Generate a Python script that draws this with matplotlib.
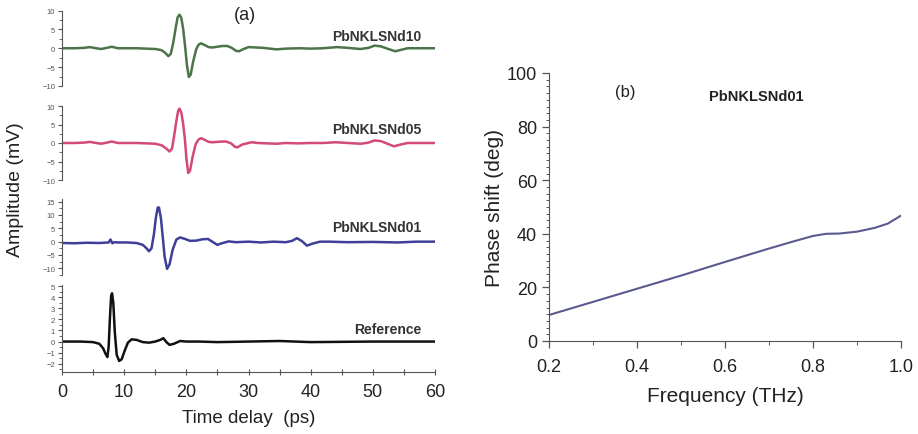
import matplotlib
matplotlib.use("Agg")
import matplotlib.pyplot as plt
from matplotlib.ticker import MultipleLocator

plt.rcParams['font.family'] = ['Liberation Sans', 'DejaVu Sans']

# THz time-domain traces (time in ps, amplitude in mV)
t_d10 = [0, 2, 3.5, 4.5, 5.5, 6.3, 7.2, 8.0, 9.0, 10.5, 12, 13.5, 15.0, 16.0, 16.6, 17.1, 17.5,
         17.9, 18.3, 18.6, 18.9, 19.2, 19.5, 19.8, 20.1, 20.4, 20.7, 21.1, 21.6, 22.0, 22.4,
         23.0, 23.6, 24.2, 25.0, 25.8, 26.6, 27.3, 28.0, 28.5, 29.2, 30.0, 31.3, 32.4, 34.5,
         36.0, 38.2, 40.0, 42.0, 44.2, 46.0, 48.0, 49.3, 50.3, 51.3, 52.5, 53.6, 54.6, 55.6, 57.0, 60]
a_d10 = [0, 0, 0.1, 0.3, 0.0, -0.2, 0.1, 0.4, 0.0, 0.0, 0.0, -0.1, -0.2, -0.5, -1.2, -2.1, -1.5,
         1.5, 5.5, 8.2, 8.9, 8.0, 5.0, 0.5, -4.5, -7.6, -7.0, -3.5, -0.2, 1.0, 1.3,
         0.8, 0.3, 0.2, 0.4, 0.6, 0.6, 0.1, -0.7, -0.8, -0.2, 0.3, 0.2, 0.1, -0.3,
         -0.1, 0.0, -0.1, 0.0, 0.3, 0.1, -0.2, 0.1, 0.7, 0.5, -0.2, -0.8, -0.4, 0.0, 0.0, 0.0]

t_d05 = [0, 2, 3.5, 4.5, 5.5, 6.3, 7.2, 8.0, 9.0, 10.5, 12, 13.5, 15.0, 16.0, 16.7, 17.3, 17.7,
         18.0, 18.4, 18.7, 18.9, 19.2, 19.5, 19.8, 20.0, 20.3, 20.6, 21.0, 21.5, 22.0, 22.4,
         23.0, 23.6, 24.2, 25.0, 25.8, 26.4, 27.2, 27.8, 28.2, 29.0, 30.5, 31.5, 33.0, 34.5,
         36.0, 38.0, 40.0, 42.0, 44.0, 46.0, 48.0, 49.3, 50.3, 51.3, 52.5, 53.4, 54.5, 55.6, 57.0, 60]
a_d05 = [0, 0, 0.1, 0.3, 0.0, -0.2, 0.1, 0.4, 0.0, 0.0, 0.0, -0.1, -0.2, -0.6, -1.4, -2.3, -1.5,
         1.5, 6.0, 8.8, 9.3, 8.2, 5.0, 0.5, -4.0, -8.1, -7.5, -3.8, -0.3, 1.0, 1.3,
         0.8, 0.3, 0.2, 0.3, 0.4, 0.4, -0.1, -1.0, -1.2, -0.4, 0.2, 0.0, -0.1, -0.2,
         0.0, -0.1, 0.0, 0.0, 0.2, 0.0, -0.2, 0.1, 0.7, 0.5, -0.3, -0.9, -0.4, 0.0, 0.0, 0.0]

t_d01 = [0, 2, 4, 6, 7.5, 7.8, 8.1, 8.4, 9.0, 10.5, 12.0, 13.0, 13.6, 14.0, 14.4, 14.8, 15.1,
         15.4, 15.6, 15.9, 16.2, 16.5, 16.9, 17.3, 17.8, 18.4, 19.0, 19.8, 20.6, 21.6, 22.6,
         23.5, 24.3, 25.0, 25.7, 26.8, 28.0, 30.0, 32.0, 34.0, 36.0, 37.0, 37.8, 38.6, 39.4,
         40.2, 41.5, 43.0, 46.0, 50.0, 54.0, 57.0, 60]
a_d01 = [-0.5, -0.6, -0.4, -0.5, -0.3, 0.8, -0.6, -0.2, -0.3, -0.3, -0.5, -1.2, -2.5, -3.6, -2.5, 3.0, 9.0,
         12.8, 12.8, 9.0, 2.0, -5.5, -10.2, -8.5, -3.0, 0.8, 1.6, 1.0, 0.3, 0.4, 0.9,
         1.0, -0.2, -1.2, -0.6, 0.1, -0.2, 0.0, -0.3, 0.0, -0.2, 0.3, 1.3, 0.2, -1.5,
         -0.8, 0.0, 0.0, -0.2, -0.1, -0.3, 0.0, 0.0]

t_ref = [0, 3, 5, 6.0, 6.6, 7.0, 7.3, 7.5, 7.7, 7.9, 8.05, 8.25, 8.5, 8.8, 9.2, 9.6, 10.1,
         10.6, 11.2, 12.0, 13.0, 14.0, 15.0, 15.8, 16.3, 16.8, 17.3, 18.0, 19.0, 20.0, 22.0,
         25.0, 30.0, 35.0, 40.0, 50.0, 60]
a_ref = [0, 0, -0.05, -0.2, -0.6, -1.1, -1.4, -0.5, 2.0, 4.1, 4.35, 3.5, 0.8, -1.2, -1.75, -1.6, -0.8,
         -0.1, 0.2, 0.15, -0.05, -0.1, 0.0, 0.15, 0.3, -0.05, -0.3, -0.2, 0.05, 0.0, 0.0,
         -0.05, 0.0, 0.05, -0.05, 0.0, 0.0]

# Phase shift of PbNKLSNd01
freq = [0.2, 0.3, 0.4, 0.5, 0.6, 0.7, 0.75, 0.8, 0.83, 0.86, 0.9, 0.94, 0.97, 1.0]
phase = [9.7, 14.6, 19.5, 24.4, 29.5, 34.5, 36.9, 39.2, 40.0, 40.1, 40.8, 42.2, 43.8, 46.8]

W, H = 918, 435
fig = plt.figure(figsize=(W / 100, H / 100), dpi=100)


def pax(x0, y0, x1, y1):
    return fig.add_axes([x0 / W, 1 - y1 / H, (x1 - x0) / W, (y1 - y0) / H])


grey = '#555555'
traces = [
    (t_d10, a_d10, '#4b7548', 'PbNKLSNd10', (-10, 10), 5, 2.5, (11.5, 87), 0.66),
    (t_d05, a_d05, '#d2497a', 'PbNKLSNd05', (-10, 10), 5, 2.5, (107, 181), 0.69),
    (t_d01, a_d01, '#3d3f98', 'PbNKLSNd01', (-12.5, 16), 5, 2.5, (200, 276), 0.63),
    (t_ref, a_ref, '#111111', 'Reference', (-2.7, 5.1), 1, 0.5, (286, 372.5), 0.49),
]

for i, (t, a, col, name, ylim, major, minor, (ytop, ybot), ly) in enumerate(traces):
    ax = pax(62, ytop, 435, ybot)
    ax.plot(t, a, color=col, lw=1.8)
    ax.set_xlim(0, 60)
    ax.set_ylim(*ylim)
    ax.patch.set_alpha(0)
    for s in ['top', 'right']:
        ax.spines[s].set_visible(False)
    ax.spines['left'].set_color(grey)
    ax.yaxis.set_major_locator(MultipleLocator(major))
    ax.yaxis.set_minor_locator(MultipleLocator(minor))
    ax.tick_params(axis='y', which='major', labelsize=5.5, labelcolor=grey, color=grey,
                   length=3, width=0.8, pad=2)
    ax.tick_params(axis='y', which='minor', color=grey, length=2, width=0.6)
    ax.text(0.963, ly, name, transform=ax.transAxes, ha='right',
            va='center', fontsize=10, fontweight='bold', color='#333333')
    if i < 3:
        ax.spines['bottom'].set_visible(False)
        ax.set_xticks([])
        ax.tick_params(axis='x', which='both', bottom=False)
    else:
        ax.spines['bottom'].set_color(grey)
        ax.xaxis.set_major_locator(MultipleLocator(10))
        ax.xaxis.set_minor_locator(MultipleLocator(5))
        ax.tick_params(axis='x', which='both', direction='inout', length=4, width=0.8,
                       color=grey, labelsize=13, labelcolor='#222222', pad=6)
        ax.set_xlabel('Time delay  (ps)', fontsize=13.5, color='#222222', labelpad=7)

fig.text(245 / W, 1 - 16 / H, '(a)', ha='center', va='center', fontsize=13, color='#222222')
fig.text(16 / W, 1 - 190 / H, 'Amplitude (mV)', rotation=90, ha='center', va='center',
         fontsize=14, color='#222222')

# phase panel
bx = pax(549, 74, 901, 342)
bx.plot(freq, phase, color='#5a5a8e', lw=1.5)
bx.set_xlim(0.2, 1.0)
bx.set_ylim(0, 100)
for s in ['top', 'right']:
    bx.spines[s].set_visible(False)
for s in ['left', 'bottom']:
    bx.spines[s].set_color(grey)
bx.xaxis.set_major_locator(MultipleLocator(0.2))
bx.xaxis.set_minor_locator(MultipleLocator(0.1))
bx.yaxis.set_major_locator(MultipleLocator(20))
bx.yaxis.set_minor_locator(MultipleLocator(2.5))
bx.xaxis.set_major_formatter(lambda v, p: f'{v:.1f}')
bx.tick_params(which='major', length=5, width=0.9, color=grey, labelsize=13,
               labelcolor='#222222')
bx.tick_params(which='minor', length=3, width=0.7, color=grey)
bx.tick_params(axis='x', which='both', pad=7)
bx.tick_params(axis='y', which='minor', length=2)
bx.set_xlabel('Frequency (THz)', fontsize=15, color='#222222', labelpad=8)
bx.set_ylabel('Phase shift (deg)', fontsize=15, color='#222222', labelpad=2)
bx.text(0.216, 0.93, '(b)', transform=bx.transAxes, ha='center', va='center',
        fontsize=12, color='#222222')
bx.text(0.59, 0.915, 'PbNKLSNd01', transform=bx.transAxes, ha='center', va='center',
        fontsize=10.5, fontweight='bold', color='#222222')

fig.savefig('out.png', dpi=100)
